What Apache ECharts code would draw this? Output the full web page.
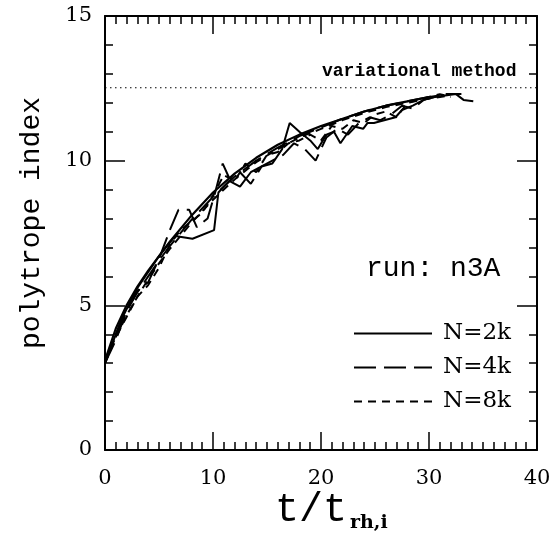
<!DOCTYPE html>
<html>
<head>
<meta charset="utf-8">
<script src="https://cdn.jsdelivr.net/npm/echarts@6/dist/echarts.min.js"></script>
<style>
  html, body { margin: 0; padding: 0; background: #fff; }
  #chart { width: 556px; height: 537px; }
</style>
</head>
<body>
<div id="chart"></div>
<script>
// smooth fits (one per run)
const fit2k = [[0,3.1],[1,4.2],[2,5.0],[3,5.65],[4,6.2],[5,6.7],[6,7.2],[8,8.1],[10,8.9],[12,9.55],[14,10.1],[16,10.55],[18,10.9],[20,11.2],[22,11.45],[24,11.7],[26,11.9],[28,12.05],[30,12.2],[31,12.25]];
const fit4k = [[0,3.0],[1,4.0],[2,4.8],[3,5.45],[4,6.0],[5,6.55],[6,7.05],[8,7.95],[10,8.75],[12,9.45],[14,10.0],[16,10.45],[18,10.85],[20,11.15],[22,11.45],[24,11.7],[26,11.9],[28,12.05],[30,12.2]];
const fit8k = [[0,3.0],[1,3.9],[2,4.65],[3,5.3],[4,5.9],[5,6.45],[6,6.95],[8,7.85],[10,8.65],[12,9.35],[14,9.95],[16,10.4],[18,10.8],[20,11.1],[22,11.4],[24,11.65],[26,11.85],[28,12.0],[30,12.15],[32,12.25]];

// raw runs
const run2k = [[0,3.0],[1.5,4.5],[3,5.6],[5,6.7],[6.5,7.4],[8.1,7.3],[10.1,7.6],[10.5,8.9],[11.5,9.3],[12.5,9.1],[13.5,9.6],[14.5,9.8],[15.5,9.9],[16.4,10.4],[17.1,11.3],[18,11.0],[19,10.7],[19.7,10.4],[20.5,10.9],[21.2,11.0],[21.8,10.6],[22.9,11.2],[23.9,11.1],[24.3,11.3],[24.9,11.3],[26.9,11.5],[27.5,11.75],[28.5,11.9],[29.5,12.1],[30.5,12.2],[31.5,12.25],[32.5,12.3],[33.2,12.1],[34.1,12.05]];
const run4k = [[0,3.0],[1,3.8],[2,4.8],[3,5.5],[4,5.8],[5,6.6],[6,7.6],[6.8,8.3],[7.8,8.3],[8.5,7.7],[9.5,8.0],[10.2,8.9],[10.9,9.9],[11.5,9.4],[12.5,9.6],[13.5,9.2],[14.5,9.8],[15.5,10.0],[16.5,10.2],[17.5,10.6],[18.5,10.4],[19.5,10.0],[20.5,10.8],[21.5,11.1],[22.5,10.9],[23.5,11.3],[24.5,11.5],[25.5,11.4],[26.5,11.6],[27.5,11.9],[28.5,11.8],[29.5,12.1],[30.5,12.2],[31.5,12.3],[32.5,12.3],[33,12.3]];
const run8k = [[0,3.1],[1,3.9],[2,4.6],[3,5.3],[4,5.7],[5,6.3],[6,7.1],[7,7.6],[8,7.9],[9,8.2],[10,8.8],[11,9.5],[12,9.3],[13,9.9],[14,9.6],[15,10.2],[16,10.3],[17,10.6],[18,10.7],[19,10.9],[20,10.7],[21,11.2],[22,11.1],[23,11.4],[24,11.3],[25,11.6],[26,11.7],[27,11.5],[28,12.0],[29,12.1],[30,12.2],[31,12.3],[32,12.2]];

const variational = [[0,12.52],[40,12.52]];

const xTicks = [0, 10, 20, 30, 40];
const yTicks = [0, 5, 10, 15];

const chart = echarts.init(document.getElementById('chart'));

const serif = 'DejaVu Serif';
const black = '#000';
const longDash = [22, 8];
const shortDash = [8, 6];

function frameAxis(extra) {
  return Object.assign({
    type: 'value',
    axisLine: { show: true, onZero: false, lineStyle: { color: black, width: 2 } },
    axisTick: { show: true, inside: true, length: 18, lineStyle: { color: black, width: 1.5 } },
    minorTick: { show: true, splitNumber: 10, length: 8, lineStyle: { color: black, width: 1.5 } },
    splitLine: { show: false },
    axisLabel: { show: false }
  }, extra);
}

function lineSeries(name, data, type, width) {
  return {
    name: name,
    type: 'line',
    data: data,
    showSymbol: false,
    symbol: 'none',
    smooth: false,
    silent: true,
    lineStyle: { color: black, width: width, type: type },
    itemStyle: { color: black }
  };
}

const yMinor = { show: true, splitNumber: 5, length: 8, lineStyle: { color: black, width: 1.5 } };
const yMajor = { show: true, inside: true, length: 20, lineStyle: { color: black, width: 1.5 } };

const option = {
  backgroundColor: '#fff',
  animation: false,
  grid: { left: 105, right: 19, top: 16, bottom: 87 },
  xAxis: [
    frameAxis({
      min: 0, max: 40, interval: 10, position: 'bottom',
      axisLabel: { show: true, margin: 18, fontFamily: serif, fontSize: 21, color: black,
        formatter: v => xTicks.includes(v) ? String(v) : '' }
    }),
    frameAxis({ min: 0, max: 40, interval: 10, position: 'top' })
  ],
  yAxis: [
    frameAxis({
      min: 0, max: 15, interval: 5, position: 'left',
      minorTick: yMinor, axisTick: yMajor,
      axisLabel: { show: true, margin: 13, fontFamily: serif, fontSize: 21, color: black,
        formatter: v => yTicks.includes(v) ? String(v) : '' }
    }),
    frameAxis({ min: 0, max: 15, interval: 5, position: 'right', minorTick: yMinor, axisTick: yMajor })
  ],
  legend: {
    orient: 'vertical',
    left: 353,
    top: 322,
    padding: 0,
    itemWidth: 78,
    itemHeight: 14,
    itemGap: 11,
    itemStyle: { opacity: 0 },
    data: ['N=2k', 'N=4k', 'N=8k'],
    textStyle: { fontFamily: serif, fontSize: 23, color: black, padding: [0, 0, 0, 6] },
    selectedMode: false
  },
  series: [
    Object.assign(lineSeries('variational', variational, 'dotted', 1), { lineStyle: { color: black, width: 1, type: [1.5, 3.5] } }),
    lineSeries('fit2k', fit2k, 'solid', 2.2),
    lineSeries('fit4k', fit4k, longDash, 2),
    lineSeries('fit8k', fit8k, shortDash, 2),
    lineSeries('N=2k', run2k, 'solid', 2),
    lineSeries('N=4k', run4k, longDash, 2),
    lineSeries('N=8k', run8k, shortDash, 2)
  ],
  graphic: [
    { type: 'text', left: 322, top: 62, style: { text: 'variational method', font: 'bold 18px "Liberation Mono"', fill: black } },
    { type: 'text', left: 366, top: 255, style: { text: 'run: n3A', font: '28px "Liberation Mono"', fill: black } },
    { type: 'text', left: 18, top: 97, rotation: Math.PI / 2, style: { text: 'polytrope index', font: '28px "Liberation Mono"', fill: black } },
    { type: 'text', left: 275, top: 490, style: { text: 't/t', font: '40px "Liberation Mono"', fill: black } },
    { type: 'text', left: 350, top: 514, style: { text: 'rh,i', font: 'bold 19px "DejaVu Serif"', fill: black } }
  ]
};

chart.setOption(option);
</script>
</body>
</html>
